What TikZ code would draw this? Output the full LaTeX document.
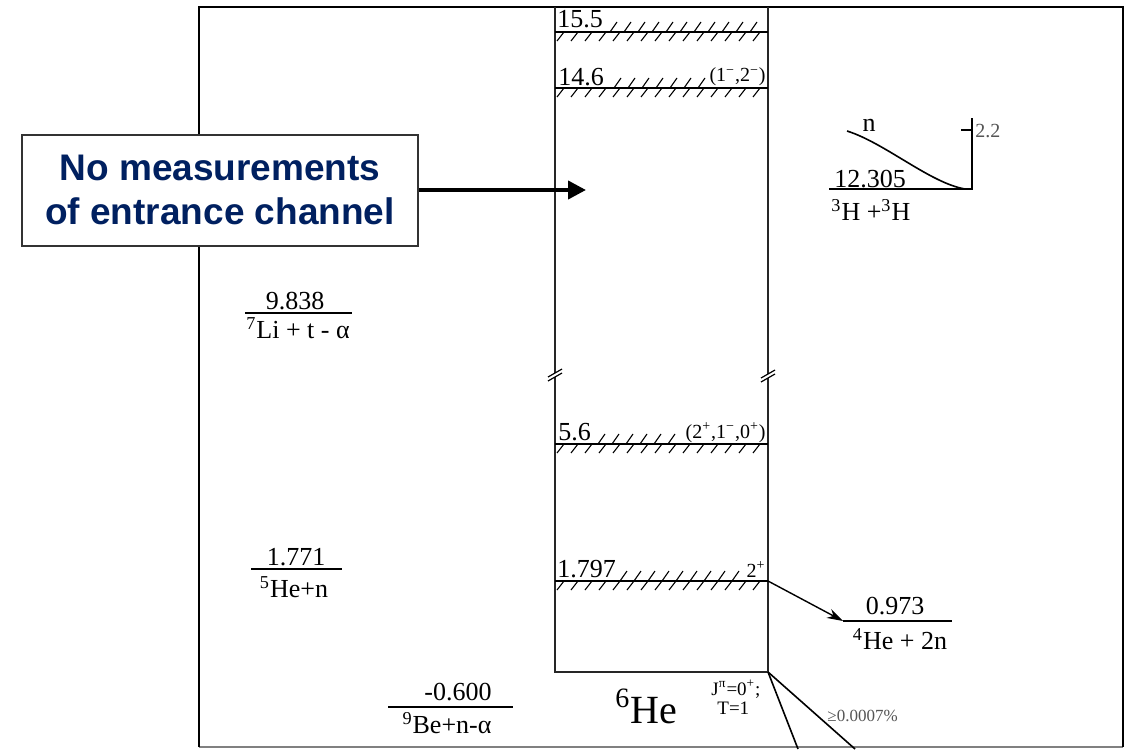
\documentclass[tikz,border=0pt]{standalone}
\usepackage{fontspec}
\setmainfont{Liberation Serif}
\setsansfont{Liberation Sans}
\usetikzlibrary{arrows.meta}
\definecolor{navy}{RGB}{0,32,96}
\definecolor{labgray}{RGB}{85,85,85}
% #1 name, #2 y, #3,#4 first two x of upper hatch, #5 last x of upper hatch
\newcommand{\hatchlevel}[5]{%
  \coordinate (lev#1L) at (555,#2);
  \coordinate (lev#1R) at (768,#2);
  \draw[lvl] (lev#1L) -- (lev#1R);
  \foreach \hx in {557,571,...,757} \draw[hatch] (\hx,#2+9) -- (\hx+7,#2);
  \foreach \hx in {#3,#4,...,#5} \draw[hatch] (\hx,#2) -- (\hx+7,#2-10);
}
\newcommand{\breakmark}[2]{%
  \fill[white] (#1-7,#2+4) -- (#1+7,#2-4) -- (#1+7,#2) -- (#1-7,#2+8) -- cycle;
  \draw[line width=0.6pt] (#1-7,#2+4) -- (#1+7,#2-4);
  \draw[line width=0.6pt] (#1-7,#2+8) -- (#1+7,#2);
}
\begin{document}
\begin{tikzpicture}[x=0.5pt,y=-0.5pt,
  lbl/.style={inner sep=0pt, font=\fontsize{13}{14}\selectfont},
  spinlbl/.style={inner sep=0pt, font=\fontsize{10}{11}\selectfont},
  smalllbl/.style={inner sep=0pt, font=\fontsize{8.5}{9}\selectfont, text=labgray},
  lvl/.style={line width=1pt},
  chan/.style={line width=0.9pt},
  hatch/.style={line width=0.55pt},
  outerline/.style={line width=1.3pt},
  wall/.style={line width=0.8pt, black!85},
  notebox/.style={draw=black!80, line width=1pt, fill=white,
    font=\sffamily\bfseries\fontsize{18.5}{22}\selectfont, text=navy,
    align=center, minimum width=198pt, minimum height=55.5pt, inner sep=0pt}
]
\useasboundingbox (0,0) rectangle (1127,749);
\fill[white] (0,0) rectangle (1127,749);

% outer frame
\coordinate (FTL) at (199,7);
\coordinate (FTR) at (1123,7);
\coordinate (FBL) at (199,747);
\coordinate (FBR) at (1123,747);
\draw[gray, line width=0.6pt] (FBL) -- (FBR);
\draw[outerline] (FBL) -- (FTL) -- (FTR) -- (FBR);

% level scheme walls
\coordinate (WTL) at (555,7);
\coordinate (WTR) at (768,7);
\coordinate (WBL) at (555,672);
\coordinate (WBR) at (768,672);
\draw[wall] (WTL) -- (WBL) -- (WBR) -- (WTR);

% levels
\hatchlevel{A}{32}{610}{624}{750}
\hatchlevel{B}{88}{614}{628}{698}
\hatchlevel{C}{444}{598}{612}{668}
\hatchlevel{D}{581}{620}{634}{732}

\node[lbl, anchor=base west] (tA) at (557,28) {15.5};
\node[lbl, anchor=base west] (tB) at (558,85) {14.6};
\node[spinlbl, anchor=base east] (sB) at (766,82) {(1\textsuperscript{−},2\textsuperscript{−})};
\node[lbl, anchor=base west] (tC) at (558,440) {5.6};
\node[spinlbl, anchor=base east] (sC) at (766,438) {(2\textsuperscript{+},1\textsuperscript{−},0\textsuperscript{+})};
\node[lbl, anchor=base west] (tD) at (557,577) {1.797};
\node[spinlbl, anchor=base east] (sD) at (766,577) {2\textsuperscript{+}};

% break marks
\breakmark{555}{373}
\breakmark{768}{374}

% 3H+3H channel
\coordinate (Ea) at (829,189);
\coordinate (Eb) at (972,189);
\coordinate (Et) at (972,118);
\coordinate (Tk) at (961,130);
\coordinate (Tr) at (972,130);
\coordinate (n0) at (847,131);
\coordinate (n1) at (965,189);
\draw[chan] (Ea) -- (Eb) -- (Et);
\draw[line width=0.6pt] (Tk) -- (Tr);
\draw[line width=0.8pt] (n0) .. controls (885,143) and (930,183) .. (n1);
\node[lbl, anchor=base] (e12) at (870,187) {12.305};
\node[lbl, anchor=base west] (r12) at (831,220) {\textsuperscript{3}H +\textsuperscript{3}H};
\node[lbl, anchor=base] (nn) at (869,131) {n};
\node[smalllbl, anchor=west, font=\fontsize{10}{11}\selectfont] (v22) at (975,131) {2.2};

% 7Li + t - alpha
\coordinate (Fa) at (245,313);
\coordinate (Fb) at (352,313);
\draw[chan] (Fa) -- (Fb);
\node[lbl, anchor=base] (e98) at (295,309) {9.838};
\node[lbl, anchor=base] (r98) at (298,338) {\textsuperscript{7}Li + t - α};

% 5He + n
\coordinate (Ga) at (251,569);
\coordinate (Gb) at (342,569);
\draw[chan] (Ga) -- (Gb);
\node[lbl, anchor=base] (e17) at (296,565) {1.771};
\node[lbl, anchor=base] (r17) at (294,597) {\textsuperscript{5}He+n};

% 9Be + n - alpha
\coordinate (Ha) at (388,707);
\coordinate (Hb) at (513,707);
\draw[chan] (Ha) -- (Hb);
\node[lbl, anchor=base] (e06) at (458,700) {-0.600};
\node[lbl, anchor=base] (r06) at (447,733) {\textsuperscript{9}Be+n-α};

% 4He + 2n
\coordinate (Ka) at (843,621);
\coordinate (Kb) at (952,621);
\draw[chan] (Ka) -- (Kb);
\node[lbl, anchor=base] (e09) at (895,614) {0.973};
\node[lbl, anchor=base] (r09) at (900,649) {\textsuperscript{4}He + 2n};
\draw[line width=0.7pt, -{Stealth[length=8pt,width=5pt]}] (levDR) -- (Ka);

% ground state
\node[inner sep=0pt, anchor=base west, font=\fontsize{20}{22}\selectfont] (he6) at (615,723) {\textsuperscript{6}He};
\node[inner sep=0pt, anchor=base west, font=\fontsize{9.5}{10}\selectfont] (jpi) at (711,695) {J\textsuperscript{π}=0\textsuperscript{+};};
\node[inner sep=0pt, anchor=base west, font=\fontsize{9.5}{10}\selectfont] (iso) at (717,714) {T=1};
\coordinate (d1) at (798,749);
\coordinate (d2) at (855,749);
\draw[line width=0.8pt] (WBR) -- (d1);
\draw[line width=0.8pt] (WBR) -- (d2);
\node[smalllbl, anchor=west] (br) at (827,716) {≥0.0007\%};

% callout
\node[notebox] (note) at (220,190) {No measurements\\of entrance channel};
\coordinate (aim) at (586,190);
\draw[line width=2pt, -{Triangle[length=9pt,width=9pt]}] (note.east) -- (aim);
\end{tikzpicture}
\end{document}
